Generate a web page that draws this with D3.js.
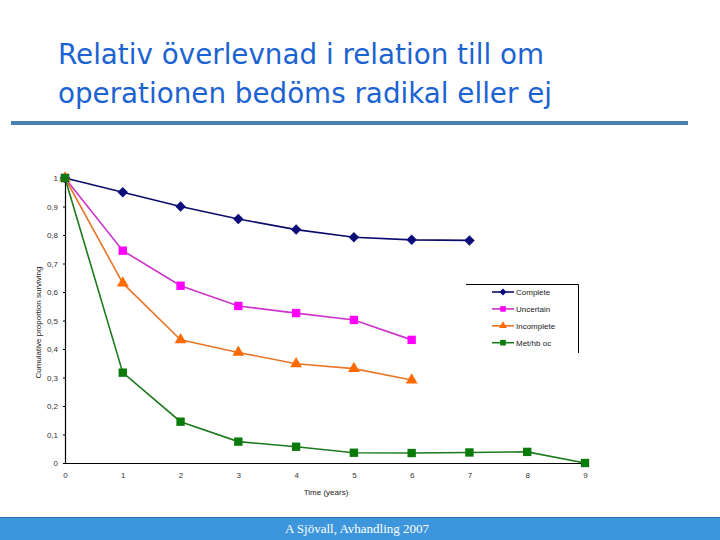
<!DOCTYPE html>
<html>
<head>
<meta charset="utf-8">
<script src="https://cdn.jsdelivr.net/npm/d3@7"></script>
<style>
  body { margin: 0; background: #fff; }
  svg { display: block; }
</style>
</head>
<body>
<div id="chart"></div>
<script>
const WIDTH = 720
const HEIGHT = 540
const PLOT = { LEFT: 65, RIGHT: 585, TOP: 178, BOTTOM: 463 }

// data
const years = [0, 1, 2, 3, 4, 5, 6, 7, 8, 9]
const complete = [1, 0.950, 0.900, 0.856, 0.819, 0.792, 0.783, 0.781]
const uncertain = [1, 0.745, 0.622, 0.551, 0.526, 0.502, 0.432]
const incomplete = [1, 0.631, 0.432, 0.388, 0.348, 0.331, 0.291]
const metastatic = [1, 0.317, 0.145, 0.075, 0.057, 0.036, 0.035, 0.037, 0.039, 0]
const yTicks = [0, 0.1, 0.2, 0.3, 0.4, 0.5, 0.6, 0.7, 0.8, 0.9, 1]
const seriesNames = ['Complete', 'Uncertain', 'Incomplete', 'Met/hb oc']

const series = [
  { name: seriesNames[0], values: complete, line: '#0b0b6b', fill: '#0b0b7a', symbol: d3.symbolDiamond2, size: 70 },
  { name: seriesNames[1], values: uncertain, line: '#cc33cc', fill: '#ff00ff', symbol: d3.symbolSquare, size: 70 },
  { name: seriesNames[2], values: incomplete, line: '#e8762a', fill: '#ff6a00', symbol: d3.symbolTriangle, size: 60 },
  { name: seriesNames[3], values: metastatic, line: '#1d7a1d', fill: '#0a7a0a', symbol: d3.symbolSquare, size: 70 }
]

const svg = d3.select('#chart')
  .append('svg')
    .attr('width', WIDTH)
    .attr('height', HEIGHT)

// title
const title = svg.append('g')
  .attr('font-family', 'DejaVu Sans, Verdana, sans-serif')
  .attr('font-size', 28)
  .attr('fill', '#1c63d2')
title.append('text')
  .attr('x', 58).attr('y', 64)
  .attr('textLength', 486).attr('lengthAdjust', 'spacingAndGlyphs')
  .text('Relativ överlevnad i relation till om')
title.append('text')
  .attr('x', 58).attr('y', 103)
  .attr('textLength', 494).attr('lengthAdjust', 'spacingAndGlyphs')
  .text('operationen bedöms radikal eller ej')

svg.append('rect')
  .attr('x', 11).attr('y', 121)
  .attr('width', 677).attr('height', 4)
  .attr('fill', '#4a7fb2')

// scales
const x = d3.scaleLinear().domain([0, 9]).range([PLOT.LEFT, PLOT.RIGHT])
const y = d3.scaleLinear().domain([0, 1]).range([PLOT.BOTTOM, PLOT.TOP])

const fmt = d => d === 0 || d === 1 ? String(d) : d3.format('.1f')(d).replace('.', ',')

const xAxis = svg.append('g')
  .attr('transform', `translate(0, ${PLOT.BOTTOM})`)
  .call(d3.axisBottom(x).tickValues(years).tickSize(0).tickPadding(9).tickFormat(d3.format('d')))
const yAxis = svg.append('g')
  .attr('transform', `translate(${PLOT.LEFT}, 0)`)
  .call(d3.axisLeft(y).tickValues(yTicks).tickSize(2).tickPadding(5).tickFormat(fmt))

;[xAxis, yAxis].forEach(g => {
  g.select('.domain').attr('stroke', '#000').attr('stroke-width', 1.2)
  g.selectAll('text').attr('font-family', 'Liberation Sans, Arial, sans-serif').attr('font-size', 8).attr('fill', '#333')
})

svg.append('text')
  .attr('x', 326).attr('y', 495)
  .attr('text-anchor', 'middle')
  .attr('font-family', 'Liberation Sans, Arial, sans-serif')
  .attr('font-size', 8).attr('fill', '#222')
  .text('Time (years)')

svg.append('text')
  .attr('transform', `translate(41, ${(PLOT.TOP + PLOT.BOTTOM) / 2 + 2}) rotate(-90)`)
  .attr('text-anchor', 'middle')
  .attr('font-family', 'Liberation Sans, Arial, sans-serif')
  .attr('font-size', 8).attr('fill', '#222')
  .text('Cumulative proportion surviving')

// lines and markers
const line = d3.line()
  .x((d, i) => x(years[i]))
  .y(d => y(d))

series.forEach(s => {
  svg.append('path')
    .datum(s.values)
    .attr('d', line)
    .attr('fill', 'none')
    .attr('stroke', s.line)
    .attr('stroke-width', 1.6)

  svg.append('g').selectAll('path')
    .data(s.values)
    .enter()
    .append('path')
      .attr('d', d3.symbol().type(s.symbol).size(s.size))
      .attr('transform', (d, i) => `translate(${x(years[i])}, ${y(d)})`)
      .attr('fill', s.fill)
})

// legend
const legend = svg.append('g')
svg.append('path')
  .attr('d', 'M466,284.5 H578.5 V353')
  .attr('fill', 'none')
  .attr('stroke', '#000')
  .attr('stroke-width', 1)

series.forEach((s, i) => {
  const ly = 292 + i * 16.9
  const row = legend.append('g').attr('transform', `translate(0, ${ly})`)
  row.append('line')
    .attr('x1', 492).attr('x2', 514)
    .attr('stroke', s.line).attr('stroke-width', 1.6)
  row.append('path')
    .attr('d', d3.symbol().type(s.symbol).size(s.size * 0.45))
    .attr('transform', 'translate(503, 0)')
    .attr('fill', s.fill)
  row.append('text')
    .attr('x', 516).attr('y', 3)
    .attr('font-family', 'Liberation Sans, Arial, sans-serif')
    .attr('font-size', 8).attr('fill', '#222')
    .text(s.name)
})

// footer
svg.append('rect')
  .attr('x', 0).attr('y', 517)
  .attr('width', WIDTH).attr('height', 23)
  .attr('fill', '#3d96dc')
svg.append('line')
  .attr('x1', 0).attr('x2', WIDTH)
  .attr('y1', 517.5).attr('y2', 517.5)
  .attr('stroke', '#2d6fb0')
svg.append('text')
  .attr('x', 357).attr('y', 533)
  .attr('text-anchor', 'middle')
  .attr('font-family', 'Liberation Serif, Times New Roman, serif')
  .attr('font-size', 13).attr('fill', '#fff')
  .text('A Sjövall, Avhandling 2007')
</script>
</body>
</html>
